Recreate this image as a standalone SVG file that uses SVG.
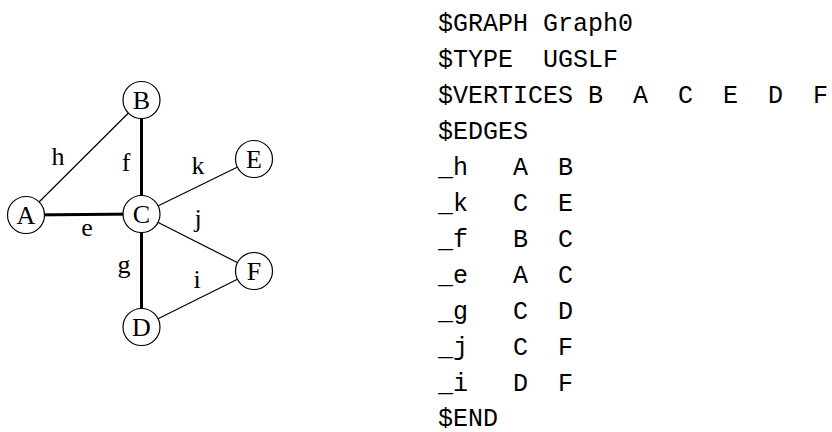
<svg xmlns="http://www.w3.org/2000/svg" width="832" height="432" viewBox="0 0 832 432">
  <style>
    .thin { stroke: #000; stroke-width: 1.2; fill: none; }
    .thick { stroke: #000; stroke-width: 3; fill: none; }
    .node circle { fill: #fff; stroke: #000; stroke-width: 1.2; }
    .node text { font-family: "Liberation Serif", serif; font-size: 26px; text-anchor: middle; fill: #000; }
    .elabel { font-family: "Liberation Serif", serif; font-size: 26px; text-anchor: middle; fill: #000; }
    .listing { font-family: "Liberation Mono", monospace; font-size: 25px; fill: #000; }
  </style>
  <rect width="832" height="432" fill="#fff"/>

  <!-- edges -->
  <g id="edges">
    <line id="edge-h" class="thin" x1="26" y1="215" x2="141.5" y2="100"/>
    <line id="edge-f" class="thick" x1="141.5" y1="100" x2="141.5" y2="214"/>
    <line id="edge-e" class="thick" x1="26" y1="215" x2="141.5" y2="214"/>
    <line id="edge-k" class="thin" x1="141.5" y1="214" x2="254" y2="159"/>
    <line id="edge-j" class="thin" x1="141.5" y1="214" x2="254" y2="271"/>
    <line id="edge-g" class="thick" x1="141.5" y1="214" x2="141.5" y2="327"/>
    <line id="edge-i" class="thin" x1="141.5" y1="327" x2="254" y2="271"/>
    <text class="elabel" x="58" y="165">h</text>
    <text class="elabel" x="126" y="171">f</text>
    <text class="elabel" x="198" y="174">k</text>
    <text class="elabel" x="87" y="236">e</text>
    <text class="elabel" x="198" y="227">j</text>
    <text class="elabel" x="124" y="273">g</text>
    <text class="elabel" x="197" y="288">i</text>
  </g>

  <!-- vertices -->
  <g id="node-B" class="node"><circle cx="141.5" cy="100" r="18.5"/><text x="141.5" y="109">B</text></g>
  <g id="node-A" class="node"><circle cx="26" cy="215" r="18.5"/><text x="26" y="224">A</text></g>
  <g id="node-C" class="node"><circle cx="141.5" cy="214" r="18.5"/><text x="141.5" y="223">C</text></g>
  <g id="node-E" class="node"><circle cx="254" cy="159" r="18.5"/><text x="254" y="168">E</text></g>
  <g id="node-F" class="node"><circle cx="254" cy="271" r="18.5"/><text x="254" y="280">F</text></g>
  <g id="node-D" class="node"><circle cx="141.5" cy="327" r="18.5"/><text x="141.5" y="336">D</text></g>

  <!-- graph file listing; columns placed on a 15px character grid -->
  <g id="listing" class="listing">
    <text x="438" y="31">$GRAPH Graph0</text>
    <text y="67"><tspan x="438">$TYPE</tspan><tspan x="543">UGSLF</tspan></text>
    <text y="103"><tspan x="438">$VERTICES</tspan><tspan x="588">B</tspan><tspan x="633">A</tspan><tspan x="678">C</tspan><tspan x="723">E</tspan><tspan x="768">D</tspan><tspan x="813">F</tspan></text>
    <text x="438" y="139">$EDGES</text>
    <text y="175"><tspan x="438">_h</tspan><tspan x="513">A</tspan><tspan x="558">B</tspan></text>
    <text y="211"><tspan x="438">_k</tspan><tspan x="513">C</tspan><tspan x="558">E</tspan></text>
    <text y="247"><tspan x="438">_f</tspan><tspan x="513">B</tspan><tspan x="558">C</tspan></text>
    <text y="283"><tspan x="438">_e</tspan><tspan x="513">A</tspan><tspan x="558">C</tspan></text>
    <text y="319"><tspan x="438">_g</tspan><tspan x="513">C</tspan><tspan x="558">D</tspan></text>
    <text y="355"><tspan x="438">_j</tspan><tspan x="513">C</tspan><tspan x="558">F</tspan></text>
    <text y="391"><tspan x="438">_i</tspan><tspan x="513">D</tspan><tspan x="558">F</tspan></text>
    <text x="438" y="426">$END</text>
  </g>
</svg>
